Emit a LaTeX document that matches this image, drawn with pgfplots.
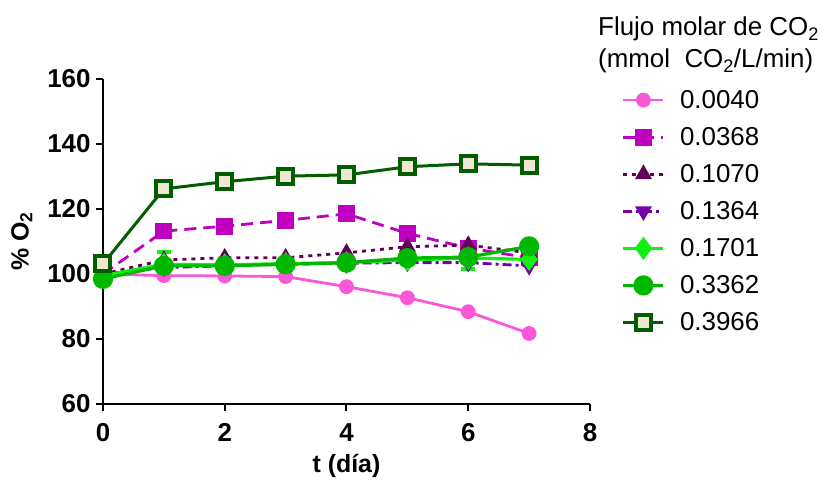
\documentclass[border=0pt]{standalone}
\usepackage{fontspec}
\setmainfont{Liberation Sans}
\usepackage{pgfplots}
\pgfplotsset{compat=1.18}
\definecolor{cpink}{HTML}{FA58D8}
\definecolor{cmag}{HTML}{C000C0}
\definecolor{cdpur}{HTML}{620058}
\definecolor{cpur}{HTML}{7400A6}
\definecolor{cbgreen}{HTML}{11F011}
\definecolor{cgreen}{HTML}{00B800}
\definecolor{cdgreen}{HTML}{005E00}
\definecolor{cbeige}{HTML}{EEE8D2}
\begin{document}
\begin{tikzpicture}
\path[use as bounding box] (-103bp,-76bp) rectangle (725bp,404bp);
\begin{axis}[
  at={(0,0)}, anchor=south west,
  scale only axis, width=487bp, height=325bp,
  xmin=0, xmax=8, ymin=60, ymax=160,
  axis lines=left, axis line style={-, line width=2.2bp},
  xtick={0,2,4,6,8}, ytick={60,80,...,160},
  tick align=outside, major tick length=7bp,
  tick style={line width=2bp, black},
  /pgf/number format/assume math mode=true,
  tick label style={font=\fontsize{26}{28}\selectfont\bfseries},
  xticklabel style={yshift=-9bp},
  yticklabel style={xshift=-2bp},
  xlabel={\bfseries t (día)}, ylabel={\bfseries \% O\textsubscript{2}},
  label style={font=\fontsize{25}{28}\selectfont},
  xlabel style={yshift=-6bp},
  ylabel style={yshift=8bp},
  clip=false,
  legend style={at={(1.065,0.972)}, anchor=north west, draw=none, fill=none,
    font=\fontsize{26}{30}\selectfont, row sep=13.5bp, column sep=0bp,
    inner sep=0pt},
  legend cell align=left,
  legend image code/.code={\draw[mark repeat=2,mark phase=2] plot coordinates {(0bp,0bp) (20bp,0bp) (40bp,0bp)};},
]
\addplot[cpink, line width=2.8bp, mark=*, mark size=6bp, mark options={solid}]
  coordinates {(0,100)(1,99.5)(2,99.4)(3,99.2)(4,96.1)(5,92.7)(6,88.4)(7,81.7)};
\addlegendentry{\hspace{13bp}0.0040}
\addplot[cmag, line width=2.8bp, dash pattern=on 12bp off 7bp, mark=square*, mark size=7bp, mark options={solid}]
  coordinates {(0,100)(1,113.2)(2,114.7)(3,116.5)(4,118.5)(5,112.5)(6,108)(7,105)};
\addlegendentry{\hspace{13bp}0.0368}
\addplot[cdpur, line width=2.8bp, dash pattern=on 4bp off 5bp, mark=triangle*, mark size=7bp, mark options={solid}]
  coordinates {(0,100)(1,104.3)(2,105)(3,105)(4,106.5)(5,108.4)(6,108.9)(7,106.5)};
\addlegendentry{\hspace{13bp}0.1070}
\addplot[cpur, line width=2.8bp, dash pattern=on 9bp off 4bp on 3bp off 4bp, mark=triangle*, mark size=7bp, mark options={solid, rotate=180}]
  coordinates {(0,100)(1,102)(2,102.5)(3,103)(4,103.3)(5,103.5)(6,103.5)(7,102.5)};
\addlegendentry{\hspace{13bp}0.1364}
\addplot[cbgreen, line width=3.2bp, mark=diamond*, mark size=9bp, mark options={solid},
  error bars/.cd, y dir=both, y explicit, error mark=-, error bar style={line width=4bp},
  error mark options={line width=4bp, mark size=7bp, rotate=90}]
  coordinates {(0,99.5) (1,103)+-(0,3.8) (2,102.8) (3,103.2) (4,103.5) (5,104.3) (6,104.9)+-(0,3.3) (7,104.5)};
\addlegendentry{\hspace{13bp}0.1701}
\addplot[cgreen, line width=3.2bp, mark=*, mark size=8.5bp, mark options={solid}]
  coordinates {(0,98.5)(1,102.5)(2,102.5)(3,103)(4,103.5)(5,104.9)(6,105.2)(7,108.5)};
\addlegendentry{\hspace{13bp}0.3362}
\addplot[cdgreen, line width=3bp, mark=square*, mark size=7.5bp, mark options={solid, fill=cbeige, line width=4bp}]
  coordinates {(0,103.1)(1,126.2)(2,128.4)(3,130.1)(4,130.5)(5,133)(6,133.9)(7,133.5)};
\addlegendentry{\hspace{13bp}0.3966}
\end{axis}
\node[anchor=base west, font=\fontsize{26}{30}\selectfont, inner sep=0pt] at (495bp,368bp) {Flujo molar de CO\textsubscript{2}};
\node[anchor=base west, font=\fontsize{26}{30}\selectfont, inner sep=0pt] at (495bp,336bp) {(mmol\ \ CO\textsubscript{2}/L/min)};
\end{tikzpicture}
\end{document}
